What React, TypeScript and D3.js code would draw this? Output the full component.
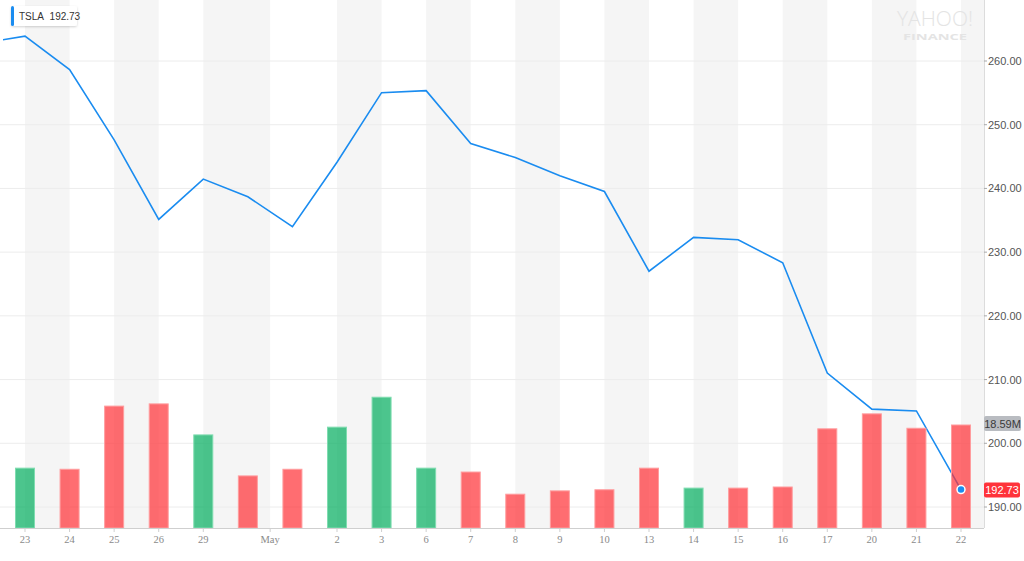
import React from "react";
import * as d3 from "d3";

// ---- data ----
const sessions = ["Apr 23", "Apr 24", "Apr 25", "Apr 26", "Apr 29", "Apr 30", "May 1", "May 2", "May 3", "May 6", "May 7", "May 8", "May 9", "May 10", "May 13", "May 14", "May 15", "May 16", "May 17", "May 20", "May 21", "May 22"];
const prevClose = 262.75; // Apr 22
const closes = [263.9, 258.66, 247.63, 235.14, 241.47, 238.69, 234.01, 244.1, 255.03, 255.34, 247.06, 244.84, 241.98, 239.52, 227.01, 232.31, 231.95, 228.33, 211.03, 205.36, 205.08, 192.73];
const volumes = [10.8, 10.6, 22.0, 22.4, 16.8, 9.4, 10.6, 18.2, 23.6, 10.8, 10.1, 6.1, 6.7, 6.9, 10.8, 7.2, 7.2, 7.4, 17.9, 20.6, 18.0, 18.59];
const tickLabels = ["23", "24", "25", "26", "29", "May", "2", "3", "6", "7", "8", "9", "10", "13", "14", "15", "16", "17", "20", "21", "22"];
const tickIndex = [0, 1, 2, 3, 4, 5.5, 7, 8, 9, 10, 11, 12, 13, 14, 15, 16, 17, 18, 19, 20, 21];
const priceTicks = [190, 200, 210, 220, 230, 240, 250, 260];
const symbol = "TSLA";

const W = 1024, H = 561;
const plotRight = 984, plotBottom = 528;

export default function App() {
  const x = d3.scaleLinear().domain([0, sessions.length - 1]).range([25, 961]);
  const y = d3.scaleLinear().domain([190, 260]).range([507, 61]);
  const yv = d3.scaleLinear().domain([0, 18.59]).range([plotBottom, 425]);

  const pts: [number, number][] = [[-1, prevClose], ...closes.map((c, i) => [i, c] as [number, number])];
  const line = d3.line<[number, number]>().x(d => x(d[0])).y(d => y(d[1]));

  const bounds = [...tickIndex.map(t => x(t)), plotRight];
  const stripes = [] as { x0: number; x1: number }[];
  for (let i = 0; i < bounds.length - 1; i += 2) stripes.push({ x0: bounds[i], x1: bounds[i + 1] });

  const last = closes.length - 1;
  const lastClose = closes[last];
  const lastVol = volumes[last];
  const barW = 19;

  return (
    <div style={{ position: "absolute", left: 0, top: 0 }}>
      <svg width={W} height={H} style={{ display: "block", fontFamily: "'Liberation Sans', Arial, sans-serif" }}>
        <defs>
          <clipPath id="plotclip"><rect x={3} y={0} width={plotRight - 3} height={plotBottom} /></clipPath>
          <filter id="shadow" x="-20%" y="-40%" width="140%" height="180%">
            <feDropShadow dx="0" dy="1" stdDeviation="1.2" floodColor="#000" floodOpacity="0.18" />
          </filter>
        </defs>
        <rect x={0} y={0} width={W} height={H} fill="#fff" />
        {stripes.map((s, i) => (
          <rect key={i} x={s.x0} y={0} width={s.x1 - s.x0} height={plotBottom} fill="#f5f5f5" />
        ))}
        {priceTicks.map(t => (
          <line key={t} x1={0} x2={plotRight} y1={y(t)} y2={y(t)} stroke="#ececec" strokeWidth={1} />
        ))}
        {/* watermark */}
        <text x={897} y={26} fill="#e4e4e4" fontFamily="'Open Sans', sans-serif" fontWeight={300} fontSize={21} textLength={76} lengthAdjust="spacingAndGlyphs">YAHOO!</text>
        <text x={903} y={39.5} fill="#e4e4e4" fontFamily="'Open Sans', sans-serif" fontWeight={700} fontSize={8.5} textLength={64} lengthAdjust="spacingAndGlyphs">FINANCE</text>

        <path d={line(pts) || ""} fill="none" stroke="#1a8cf0" strokeWidth={1.6} clipPath="url(#plotclip)" />

        {volumes.map((v, i) => {
          const prev = i === 0 ? prevClose : closes[i - 1];
          const up = closes[i] >= prev;
          return (
            <rect key={i} x={x(i) - barW / 2} y={yv(v)} width={barW} height={plotBottom - yv(v)}
              fill={up ? "#00ad5c" : "#ff2f35"} fillOpacity={0.7}
              stroke={up ? "#7fdcb0" : "#ff9c9e"} strokeWidth={1} />
          );
        })}

        {/* axes */}
        <line x1={0} x2={plotRight} y1={plotBottom + 0.5} y2={plotBottom + 0.5} stroke="#cfcfcf" />
        <line x1={plotRight + 0.5} x2={plotRight + 0.5} y1={0} y2={plotBottom} stroke="#dcdcdc" />
        {tickIndex.map((t, i) => (
          <g key={i}>
            <line x1={x(t)} x2={x(t)} y1={plotBottom} y2={plotBottom + 4} stroke="#cfcfcf" />
            <text x={x(t)} y={543} textAnchor="middle" fontSize={10.5} fill="#8a8a8a" fontFamily="'Liberation Serif', 'Times New Roman', serif">{tickLabels[i]}</text>
          </g>
        ))}
        {priceTicks.map(t => (
          <g key={t}>
            <line x1={plotRight} x2={plotRight + 3} y1={y(t)} y2={y(t)} stroke="#aaa" />
            <text x={988} y={y(t) + 4} fontSize={11} fill="#555">{t.toFixed(2)}</text>
          </g>
        ))}

        {/* last value markers */}
        <circle cx={x(last)} cy={y(lastClose)} r={4} fill="#1a8cf0" stroke="#fff" strokeWidth={1.5} />
        <rect x={984} y={yv(lastVol) - 9} width={37} height={15} rx={2} fill="#b9bcc1" />
        <text x={1002.5} y={yv(lastVol) + 2.5} textAnchor="middle" fontSize={11} fill="#3a3a3a">{lastVol.toFixed(2)}M</text>
        <rect x={984} y={y(lastClose) - 7} width={36} height={15} rx={2} fill="#ff333a" />
        <text x={1002} y={y(lastClose) + 4} textAnchor="middle" fontSize={11} fill="#fff">{lastClose.toFixed(2)}</text>

        {/* legend */}
        <g filter="url(#shadow)">
          <rect x={11} y={6} width={66} height={20} rx={2} fill="#fff" />
        </g>
        <rect x={11} y={6} width={3} height={20} rx={1.5} fill="#1a8cf0" />
        <text x={19} y={19.5} fontSize={10} fill="#333">{symbol}{"\u00a0\u00a0"}{lastClose.toFixed(2)}</text>
      </svg>
    </div>
  );
}
